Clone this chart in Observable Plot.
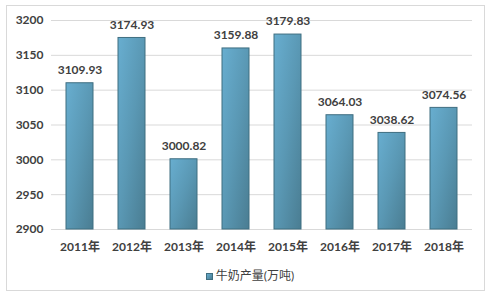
<!DOCTYPE html>
<html>
<head>
<meta charset="utf-8">
<script src="https://cdn.jsdelivr.net/npm/d3@7"></script>
<script src="https://cdn.jsdelivr.net/npm/@observablehq/plot@0.6"></script>
<style>
  html, body { margin: 0; padding: 0; background: #fff; }
  body { width: 492px; height: 297px; position: relative; overflow: hidden;
         font-family: Lato, "Noto Sans CJK SC", sans-serif; }
  #frame { position: absolute; left: 6px; top: 5px; width: 479px; height: 286px;
           border: 1px solid #d9d9d9; box-sizing: border-box; }
  #chart { position: absolute; left: 0; top: 0; }
  #legend { position: absolute; left: 0; width: 492px; top: 266px; text-align: center;
            font-size: 12px; color: #404040; padding-left: 8px; box-sizing: border-box; }
  #legend .sw { display: inline-block; width: 7px; height: 7px; margin-right: 3px;
                background: linear-gradient(135deg, #66abcc, #4a7f95); border: 1px solid #3f6e80;
                box-sizing: border-box; vertical-align: 0px; }
</style>
</head>
<body>
<div id="frame"></div>
<div id="chart"></div>
<div id="legend"><span class="sw"></span>牛奶产量(万吨)</div>
<script>
const years = ["2011年", "2012年", "2013年", "2014年", "2015年", "2016年", "2017年", "2018年"];
const values = [3109.93, 3174.93, 3000.82, 3159.88, 3179.83, 3064.03, 3038.62, 3074.56];
const yTicks = [2900, 2950, 3000, 3050, 3100, 3150, 3200];
const seriesName = "牛奶产量(万吨)";
const yBase = 2900;

const data = years.map((y, i) => ({year: y, value: values[i]}));

const chart = Plot.plot({
  width: 492,
  height: 258,
  marginLeft: 51,
  marginRight: 20,
  marginTop: 20,
  marginBottom: 29,
  style: {fontFamily: 'Lato, "Noto Sans CJK SC", sans-serif', fontSize: "12px", color: "#404040", background: "transparent"},
  x: {domain: years, paddingInner: 0.487, paddingOuter: 0.2435, label: null},
  y: {domain: [2900, 3200], label: null},
  marks: [
    Plot.gridY(yTicks, {stroke: "#d9d9d9", strokeOpacity: 1}),
    Plot.barY(data, {x: "year", y1: () => yBase, y2: "value", fill: "url(#barGrad)", stroke: "#3f6e80", strokeWidth: 1}),
    Plot.text(data, {x: "year", y: "value", text: d => d.value.toFixed(2), dy: -13, fontWeight: "bold", fill: "#404040", fontSize: 12}),
    Plot.axisY({ticks: yTicks, tickFormat: d3.format("d"), tickSize: 0, tickPadding: 8, fontWeight: "bold", fill: "#404040", fontSize: 12, label: null}),
    Plot.axisX({tickSize: 0, tickPadding: 13, fontWeight: "bold", fill: "#404040", fontSize: 12, label: null})
  ]
});

const ns = "http://www.w3.org/2000/svg";
const defs = document.createElementNS(ns, "defs");
defs.innerHTML = `<linearGradient id="barGrad" x1="0" y1="0" x2="1" y2="1">
  <stop offset="0" stop-color="#68aed0"/>
  <stop offset="0.5" stop-color="#5a98b4"/>
  <stop offset="1" stop-color="#4a7d92"/>
</linearGradient>`;
chart.insertBefore(defs, chart.firstChild);
document.getElementById("chart").appendChild(chart);
</script>
</body>
</html>
